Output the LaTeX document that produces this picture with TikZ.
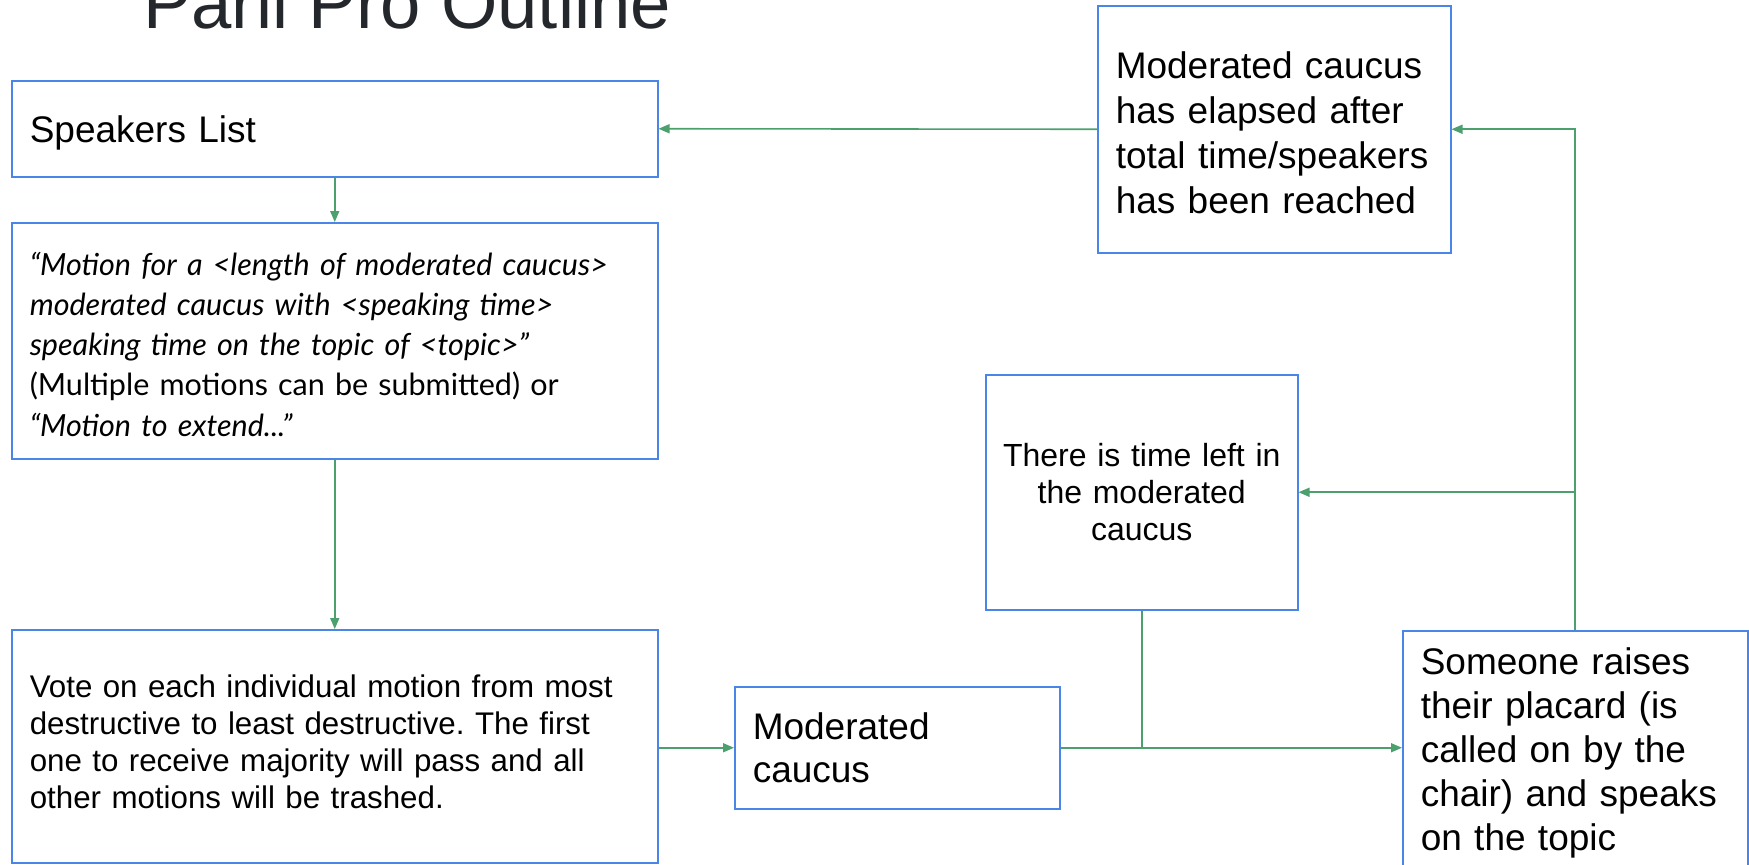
\documentclass[tikz,border=0pt]{standalone}
\usepackage{fontspec}
\setmainfont{Liberation Sans}
\newfontfamily\latofont{Lato}
\usetikzlibrary{arrows.meta}
\definecolor{boxblue}{RGB}{74,134,232}
\definecolor{flowgreen}{RGB}{76,160,110}
\definecolor{titlegray}{RGB}{36,40,44}
\frenchspacing
\begin{document}
\begin{tikzpicture}[x=1pt,y=-1pt,
stepbox/.style={draw=boxblue,line width=1.5pt,anchor=north west,inner xsep=18pt,inner ysep=0pt,align=left},
flow/.style={draw=flowgreen,line width=1.6pt,-{Triangle[length=11pt,width=9pt]}},
link/.style={draw=flowgreen,line width=1.6pt}]
\useasboundingbox (0,0) rectangle (1749,865);
\node[anchor=base west,inner sep=0pt,text=titlegray,font=\fontsize{72.5}{80}\selectfont] (title) at (143,28) {Parli Pro Outline};
% left column
\node[stepbox,text width=610pt,minimum height=96pt,font=\fontsize{37}{44}\selectfont] (speakers) at (11,80) {\rule{0pt}{36pt}Speakers List};
\node[stepbox,text width=610pt,minimum height=236pt,font=\latofont\fontsize{30.5}{40.3}\selectfont] (motion) at (11,222)
  {{\itshape\rule{0pt}{30pt}“Motion for a <length of moderated caucus>}\\
   {\itshape moderated caucus with <speaking time>}\\
   {\itshape speaking time on the topic of <topic>”}\\
   (Multiple motions can be submitted) or\\
   {\itshape “Motion to extend...”}};
\node[stepbox,text width=610pt,minimum height=233pt,font=\fontsize{31.3}{36.8}\selectfont] (vote) at (11,629)
  {Vote on each individual motion from most\\
   destructive to least destructive. The first\\
   one to receive majority will pass and all\\
   other motions will be trashed.\rule[-9pt]{0pt}{0pt}};
% right side
\node[stepbox,text width=289pt,minimum height=122pt,font=\fontsize{37}{43}\selectfont] (modc) at (734,686) {Moderated\\caucus};
\node[stepbox,inner xsep=8pt,text width=296pt,minimum height=235pt,align=center,font=\fontsize{32}{37}\selectfont] (timeleft) at (985,374)
  {There is time left in\\the moderated\\caucus};
\node[stepbox,text width=317pt,minimum height=247pt,font=\fontsize{37}{45}\selectfont] (elapsed) at (1097,5)
  {\rule{0pt}{34pt}Moderated caucus\\has elapsed after\\total time/speakers\\has been reached};
\node[stepbox,text width=309pt,minimum height=244pt,font=\fontsize{37}{44}\selectfont] (someone) at (1402,630)
  {Someone raises\\their placard (is\\called on by the\\chair) and speaks\\on the topic};
% connectors
\draw[flow] (speakers.south) -- (motion.north);
\draw[flow] (motion.south) -- (vote.north);
\draw[flow] (vote.east |- modc.west) -- (modc.west);
\draw[flow] (modc.east) -- (modc.east -| someone.west);
\draw[link] (timeleft.south) -- (timeleft.south |- modc.east);
\draw[flow] (someone.north) |- (elapsed.east);
\coordinate (split) at (someone.north |- timeleft.east);
\draw[flow] (split) -- (timeleft.east);
\draw[flow] (elapsed.west) -- (speakers.east);
\end{tikzpicture}
\end{document}
